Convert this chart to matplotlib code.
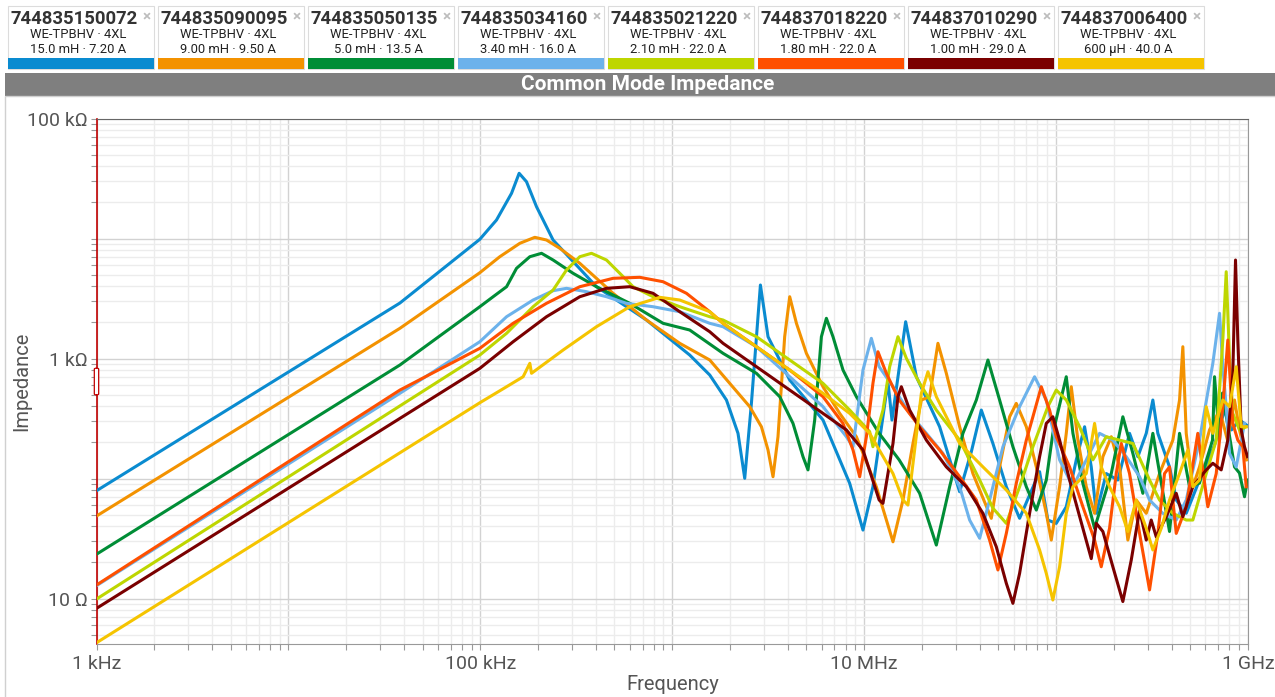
import matplotlib
matplotlib.use("Agg")
import matplotlib.pyplot as plt
from matplotlib.patches import Rectangle, FancyBboxPatch
from matplotlib.ticker import LogLocator, NullFormatter

plt.rcParams['font.family'] = ['Roboto', 'DejaVu Sans']

# ---- measured common-mode impedance, |Z| in ohm vs frequency in Hz ----
f_150072 = [1e3, 38.1e3, 99.4e3, 121.4e3, 145.4e3, 159.3e3, 174e3, 196.2e3, 239.4e3, 402.9e3,
            733.8e3, 1.233e6, 1.568e6, 1.916e6, 2.201e6, 2.386e6, 2.585e6, 2.88e6, 3.155e6, 4.093e6,
            6.103e6, 8.405e6, 9.857e6, 11.11e6, 13.3e6, 13.96e6, 16.45e6, 18.71e6, 24.73e6, 31.44e6,
            36.17e6, 40.78e6, 46.86e6, 55.04e6, 64.55e6, 82.06e6, 90.6e6, 100.2e6, 113e6, 127.4e6,
            140.8e6, 152.5e6, 162e6, 182.6e6, 209.9e6, 241.4e6, 266.7e6, 295e6, 319.3e6, 339e6,
            390e6, 422.7e6, 476.6e6, 558.9e6, 669.2e6, 754.5e6, 820.6e6, 903.1e6, 982.2e6]
z_150072 = [79.1, 2900, 9850, 14260, 23800, 34950, 29740, 18410, 9716, 3966,
            2094, 1069, 729, 451, 238, 100.4, 423, 4098, 1520, 662,
            307, 91.2, 37.2, 85.4, 641, 307, 2026, 705, 270, 77.6,
            167, 372, 196, 85.4, 46.6, 114, 45.1, 42.3, 58.2, 143,
            270, 125, 51.3, 110, 97.2, 238, 152, 238, 451, 238,
            125, 66.2, 51.3, 97.2, 190, 372, 254, 307, 279]

f_090095 = [1e3, 38.1e3, 99.4e3, 126.3e3, 160.6e3, 192.2e3, 221.2e3, 259.5e3, 329.8e3, 491.7e3,
            733.8e3, 1.094e6, 1.568e6, 1.993e6, 2.533e6, 2.915e6, 3.155e6, 3.35e6, 3.556e6, 3.853e6,
            4.093e6, 4.437e6, 5.0e6, 6.103e6, 7.455e6, 9.108e6, 11.57e6, 14.13e6, 15.93e6, 17.96e6,
            19.86e6, 21.94e6, 24.23e6, 26.8e6, 31.44e6, 36.87e6, 45.97e6, 50.78e6, 57.27e6, 62.03e6,
            69.97e6, 78.88e6, 88.92e6, 94.41e6, 104.3e6, 113e6, 120e6, 129.9e6, 143.7e6, 158.7e6,
            175.3e6, 193.9e6, 214.2e6, 236.6e6, 261.6e6, 295e6, 346e6, 405.9e6, 439.8e6, 457.6e6,
            476.6e6, 516e6, 558.9e6, 630.2e6, 710.7e6, 782.1e6, 850.6e6, 903.1e6, 982.2e6]
z_090095 = [48.7, 1785, 5188, 7052, 9120, 10230, 9716, 8288, 6215, 3494,
            2094, 1339, 972, 621, 397, 270, 173, 103.5, 223, 1520,
            3273, 1965, 1105, 582, 349, 223, 85.4, 29.7, 66.2, 196,
            451, 481, 1339, 753, 270, 110, 46.6, 125, 327, 423,
            270, 125, 51.3, 30.7, 85.4, 238, 582, 209, 85.4, 51.3,
            152, 223, 125, 30.7, 66.2, 51.3, 110, 209, 451, 1254,
            238, 85.4, 125, 254, 372, 209, 451, 254, 143]

f_050135 = [1e3, 38.1e3, 99.4e3, 116.6e3, 137e3, 154.4e3, 181.1e3, 208.4e3, 239.4e3, 304.3e3,
            402.9e3, 600.5e3, 895.5e3, 1.233e6, 1.839e6, 2.745e6, 3.63e6, 4.258e6, 4.801e6, 5.097e6,
            5.523e6, 5.986e6, 6.355e6, 6.879e6, 7.757e6, 9.108e6, 11.97e6, 15.22e6, 19.46e6, 23.77e6,
            27.88e6, 32.7e6, 38.41e6, 44.15e6, 50.78e6, 59.57e6, 69.97e6, 78.88e6, 88.92e6, 96.2e6,
            113e6, 122.4e6, 137.9e6, 158.7e6, 193.9e6, 222.8e6, 251.2e6, 283.2e6, 319.3e6, 390e6,
            439.8e6, 495.8e6, 558.9e6, 653.4e6, 669.2e6, 710.7e6, 736.5e6, 850.6e6, 903.1e6, 959e6,
            994e6]
z_050135 = [23.4, 883, 2702, 3273, 3966, 5646, 7052, 7529, 6620, 5129,
            3966, 2884, 1965, 1728, 1105, 753, 481, 288, 152, 118,
            307, 1520, 2163, 1520, 802, 481, 238, 143, 75.3, 27.9,
            85.4, 238, 451, 972, 451, 184, 85.4, 54.6, 97.2, 238,
            705, 238, 91.2, 38.5, 110, 327, 162, 75.3, 238, 36.2,
            238, 85.4, 91.7, 209, 705, 209, 516, 125, 111, 70.5,
            97.2]

f_034160 = [1e3, 38.1e3, 99.4e3, 137e3, 188.4e3, 239.4e3, 281.2e3, 357.4e3, 454.3e3, 577.4e3,
            794.3e3, 1.094e6, 1.568e6, 1.839e6, 2.745e6, 4.093e6, 6.103e6, 8.08e6, 8.746e6, 9.857e6,
            10.9e6, 11.97e6, 14.13e6, 17.26e6, 21.09e6, 25.73e6, 31.44e6, 35.44e6, 39.97e6, 45.04e6,
            52.84e6, 64.55e6, 77.27e6, 88.92e6, 104.3e6, 122.4e6, 143.7e6, 168.5e6, 197.6e6, 232.1e6,
            272.3e6, 306.9e6, 359.9e6, 422.7e6, 476.6e6, 558.9e6, 655.8e6, 710.7e6, 739.2e6, 770e6,
            801e6, 868e6, 959e6]
z_034160 = [12.8, 513, 1380, 2230, 3073, 3673, 3846, 3604, 3273, 2884,
            2702, 2455, 1965, 1841, 1254, 705, 397, 223, 184, 802,
            1473, 855, 582, 349, 238, 162, 85.4, 45.1, 31.8, 66.2,
            184, 397, 705, 451, 143, 85.4, 143, 238, 209, 152,
            103.5, 66.2, 51.3, 45.1, 66.2, 209, 912, 2381, 855, 397,
            162, 125, 288]

f_021220 = [1e3, 99.4e3, 137e3, 188.4e3, 239.4e3, 281.2e3, 329.8e3, 379.5e3, 454.3e3, 532.9e3,
            624.8e3, 794.3e3, 1.094e6, 1.568e6, 1.839e6, 2.745e6, 4.093e6, 6.103e6, 8.405e6, 10.68e6,
            11.11e6, 12.53e6, 13.58e6, 15.0e6, 16.59e6, 19.46e6, 23.77e6, 31.44e6, 39.97e6, 46.86e6,
            55.04e6, 64.55e6, 75.72e6, 90.6e6, 100.2e6, 113e6, 132.6e6, 155.5e6, 182.6e6, 214.2e6,
            251.2e6, 306.9e6, 346e6, 405.9e6, 476.6e6, 516e6, 605.8e6, 683e6, 739.2e6, 770e6,
            801e6, 833.4e6, 903.1e6, 978.6e6]
z_021220 = [9.9, 1069, 1622, 2702, 3722, 5464, 7052, 7529, 6620, 5129,
            3966, 3273, 2702, 2230, 2094, 1520, 972, 621, 372, 246,
            184, 372, 855, 1520, 1004, 621, 372, 209, 97.2, 56.6,
            42.3, 85.4, 184, 397, 546, 451, 270, 143, 223, 209,
            196, 97.2, 66.2, 51.3, 45.1, 45.1, 110, 209, 1426, 5287,
            1004, 349, 254, 270]

f_018220 = [1e3, 38.1e3, 99.4e3, 148.2e3, 221.2e3, 329.8e3, 491.7e3, 677.1e3, 895.5e3, 1.186e6,
            1.568e6, 1.839e6, 2.745e6, 4.093e6, 6.103e6, 7.757e6, 8.746e6, 9.476e6, 10.27e6, 11.11e6,
            11.8e6, 13.05e6, 15.22e6, 19.46e6, 24.73e6, 31.44e6, 38.41e6, 45.04e6, 49.77e6, 55.04e6,
            62.03e6, 69.97e6, 75.72e6, 83.73e6, 92.5e6, 100.2e6, 117.6e6, 137.9e6, 158.7e6, 171.9e6,
            189.9e6, 205.8e6, 218.6e6, 241.4e6, 272.3e6, 306.9e6, 339e6, 367.3e6, 390e6, 422.7e6,
            476.6e6, 547.6e6, 617.6e6, 683e6, 739.2e6, 785e6, 833.4e6, 884.9e6, 939.5e6, 978.6e6]
z_018220 = [12.96, 546, 1216, 1965, 2884, 3966, 4660, 4750, 4365, 3494,
            2455, 1965, 1254, 802, 481, 288, 173, 103.5, 223, 621,
            1139, 753, 451, 270, 173, 103.5, 66.2, 30.7, 17.3, 34.9,
            91.2, 209, 327, 582, 372, 223, 125, 58.2, 30.7, 18.4,
            38.5, 110, 196, 110, 34.9, 11.8, 34.9, 110, 125, 34.9,
            58.2, 238, 58.2, 110, 397, 1426, 288, 209, 184, 85.4]

f_010290 = [1e3, 99.4e3, 148.2e3, 221.2e3, 329.8e3, 454.3e3, 600.5e3, 794.3e3, 1.094e6, 1.568e6,
            1.839e6, 2.745e6, 4.093e6, 6.103e6, 8.08e6, 9.857e6, 11.97e6, 12.53e6, 14.13e6, 15.0e6,
            15.62e6, 17.26e6, 21.09e6, 26.8e6, 34.06e6, 41.57e6, 48.81e6, 55.04e6, 59.57e6, 64.55e6,
            72.78e6, 82.06e6, 88.92e6, 96.2e6, 104.3e6, 117.6e6, 137.9e6, 152.5e6, 162e6, 175.3e6,
            197.6e6, 222.8e6, 246.4e6, 272.3e6, 295e6, 313.1e6, 332.5e6, 375e6, 422.7e6, 457.6e6,
            516e6, 605.8e6, 655.8e6, 725e6, 785e6, 833.4e6, 860.9e6, 884.9e6, 921.8e6, 959e6,
            994e6]
z_010290 = [8.28, 828, 1380, 2230, 3273, 3846, 3966, 3494, 2455, 1672,
            1339, 855, 546, 349, 254, 173, 66.2, 62.1, 196, 481,
            582, 372, 209, 125, 85.4, 51.3, 27.0, 13.4, 9.12, 16.2,
            51.3, 152, 288, 327, 209, 97.2, 38.5, 21.5, 42.3, 36.2,
            18.4, 9.44, 20.9, 54.6, 30.7, 45.1, 32.7, 48.1, 75.3, 48.1,
            85.4, 118, 134, 118, 209, 753, 6620, 1426, 254, 184,
            152]

f_006400 = [1e3, 99.4e3, 137e3, 167.1e3, 181.1e3, 184.8e3, 270e3, 402.9e3, 600.5e3, 861e3,
            1.094e6, 1.568e6, 1.839e6, 2.745e6, 4.093e6, 6.103e6, 8.405e6, 10.68e6, 14.13e6, 15.93e6,
            16.91e6, 18.32e6, 19.86e6, 21.49e6, 23.77e6, 31.44e6, 41.57e6, 55.04e6, 69.97e6, 82.06e6,
            88.92e6, 96.2e6, 104.3e6, 113e6, 122.4e6, 143.7e6, 158.7e6, 171.9e6, 189.9e6, 214.2e6,
            236.6e6, 261.6e6, 295e6, 319.3e6, 353.2e6, 390e6, 439.8e6, 485.9e6, 516e6, 558.9e6,
            605.8e6, 655.8e6, 739.2e6, 801e6, 868e6, 921.8e6, 978.6e6]
z_006400 = [4.28, 428, 582, 705, 912, 753, 1177, 1841, 2702, 3236,
            3073, 2455, 1965, 1254, 802, 513, 349, 238, 110, 66.2,
            60.1, 173, 513, 776, 481, 196, 125, 80.2, 51.3, 25.4,
            16.2, 9.72, 18.4, 51.3, 85.4, 110, 288, 125, 85.4, 58.2,
            36.2, 66.2, 38.5, 25.4, 38.5, 66.2, 110, 173, 85.4, 97.2,
            397, 238, 451, 397, 855, 270, 270]

part_numbers = ['744835150072', '744835090095', '744835050135', '744835034160',
                '744835021220', '744837018220', '744837010290', '744837006400']
series_name = 'WE-TPBHV · 4XL'
ratings = ['15.0 mH · 7.20 A', '9.00 mH · 9.50 A', '5.0 mH · 13.5 A', '3.40 mH · 16.0 A',
           '2.10 mH · 22.0 A', '1.80 mH · 22.0 A', '1.00 mH · 29.0 A', '600 µH · 40.0 A']
colors = ['#0a8bd0', '#f39200', '#008d36', '#6cb2eb',
          '#bed600', '#ff5000', '#7a0000', '#f5c400']

freqs = [f_150072, f_090095, f_050135, f_034160, f_021220, f_018220, f_010290, f_006400]
imps = [z_150072, z_090095, z_050135, z_034160, z_021220, z_018220, z_010290, z_006400]

W, H = 1275, 697
fig = plt.figure(figsize=(W / 100, H / 100), dpi=100)


def px_box(x, y, w, h):
    """pixel rectangle (top-left origin) -> figure fraction tuple"""
    return x / W, 1 - (y + h) / H, w / W, h / H


# ---- header: one card per part ----
for i, (pn, rt, col) in enumerate(zip(part_numbers, ratings, colors)):
    left = 8 + 150 * i
    x0, y0, w0, h0 = px_box(left, 6, 146, 63)
    fig.patches.append(Rectangle((x0, y0), w0, h0, transform=fig.transFigure,
                                 facecolor='white', edgecolor='#dcdcdc', lw=0.8))
    x1, y1, w1, h1 = px_box(left, 58, 146, 11)
    fig.patches.append(Rectangle((x1, y1), w1, h1, transform=fig.transFigure,
                                 facecolor=col, edgecolor='none'))
    fig.text((left + 66.5) / W, 1 - 18.5 / H, pn, ha='center', va='center',
             fontsize=13.3, fontweight='bold', color='#333333')
    fig.text((left + 139) / W, 1 - 16 / H, '×', ha='center', va='center',
             fontsize=11, fontweight='bold', color='#bdbdbd')
    fig.text((left + 70) / W, 1 - 35 / H, series_name, ha='center', va='center',
             fontsize=9.4, color='#222222')
    fig.text((left + 70) / W, 1 - 49.5 / H, rt, ha='center', va='center',
             fontsize=9.4, color='#222222')

# title bar
tx, ty, tw, th = px_box(5, 73, 1270, 23)
fig.patches.append(Rectangle((tx, ty), tw, th, transform=fig.transFigure,
                             facecolor='#7f7f7f', edgecolor='none'))
fig.text(648 / W, 1 - 85 / H, 'Common Mode Impedance', ha='center', va='center',
         fontsize=15, fontweight='bold', color='white')

# panel frame under the title bar
px0, py0, pw0, ph0 = px_box(5, 96, 1272, 602)
fig.patches.append(Rectangle((px0, py0), pw0, ph0, transform=fig.transFigure,
                             facecolor='none', edgecolor='#d0d0d0', lw=1))

# ---- chart ----
ax = fig.add_axes([96.5 / W, 1 - 644 / H, (1248 - 96.5) / W, (644 - 118.5) / H])
ax.set_xscale('log')
ax.set_yscale('log')
ax.set_xlim(1e3, 1e9)
ax.set_ylim(4.18, 1e5)

for f, z, col in zip(freqs, imps, colors):
    ax.plot(f, z, color=col, lw=2.2, solid_joinstyle='round', zorder=3)

ax.set_xticks([1e3, 1e4, 1e5, 1e6, 1e7, 1e8, 1e9])
ax.set_xticklabels(['1 kHz', '', '100 kHz', '', '10 MHz', '', '1 GHz'])
ax.set_yticks([1e1, 1e2, 1e3, 1e4, 1e5])
ax.set_yticklabels(['10 Ω', '', '1 kΩ', '', '100 kΩ'])
ax.xaxis.set_minor_locator(LogLocator(base=10, subs=range(2, 10), numticks=20))
ax.yaxis.set_minor_locator(LogLocator(base=10, subs=range(2, 10), numticks=20))
ax.xaxis.set_minor_formatter(NullFormatter())
ax.yaxis.set_minor_formatter(NullFormatter())

ax.grid(which='major', color='#d2d2d2', lw=1.0, zorder=0)
ax.grid(which='minor', color='#ececec', lw=1.0, zorder=0)
ax.set_axisbelow(True)

ax.tick_params(which='both', direction='out', color='#9a9a9a', width=0.8,
               length=4, labelsize=14, labelcolor='#555555')
ax.tick_params(axis='y', which='major', pad=2.5)
ax.tick_params(axis='x', which='major', pad=4)

ax.spines['left'].set_color('#c00000')
ax.spines['left'].set_linewidth(1.2)
ax.spines['top'].set_color('#666666')
ax.spines['right'].set_color('#999999')
ax.spines['bottom'].set_color('#999999')

ax.set_xlabel('Frequency', fontsize=14.5, color='#555555', va='center')
ax.xaxis.set_label_coords(0.5, -0.078)
ax.set_ylabel('Impedance', fontsize=14.5, color='#555555', va='center')
ax.yaxis.set_label_coords(-0.0647, 0.5)

# range handle on the value axis
ax.add_patch(FancyBboxPatch((-0.0019, 0.474), 0.0038, 0.051,
                            boxstyle='round,pad=0,rounding_size=0.002',
                            transform=ax.transAxes, facecolor='white',
                            edgecolor='#c00000', lw=0.9, clip_on=False, zorder=5))

fig.savefig('out.png', dpi=100)
